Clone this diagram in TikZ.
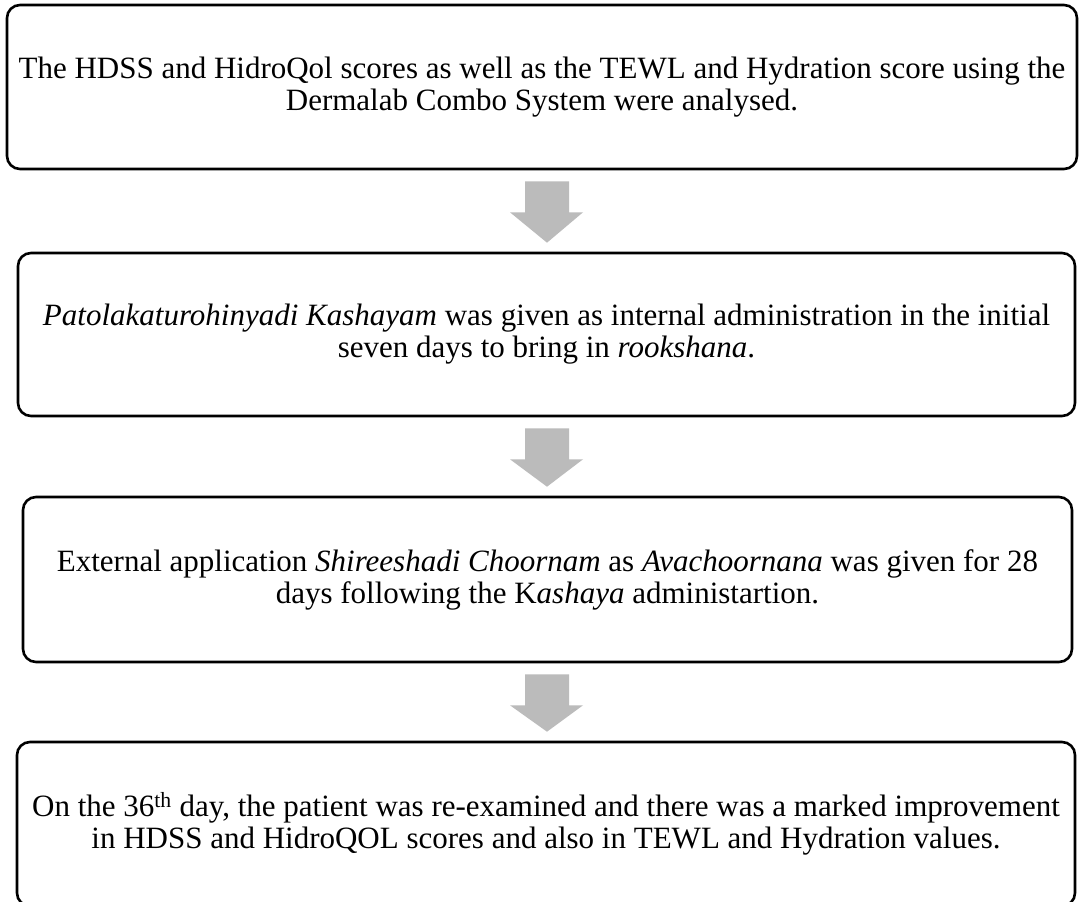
\documentclass[tikz,border=0pt]{standalone}
\usepackage{fontspec}
\setmainfont{Liberation Serif}
\usetikzlibrary{calc}
\definecolor{arrowfill}{RGB}{187,187,187}
\tikzset{
  stepbox/.style={draw=black, line width=2.6pt, rounded corners=13pt, rectangle,
    align=center, inner sep=0pt, font=\fontsize{31}{32}\selectfont},
}
\begin{document}
\begin{tikzpicture}[x=1pt,y=-1pt]
\clip (0,0) rectangle (1079,902);
\fill[white] (0,0) rectangle (1079,902);
\coordinate (ax) at (547,0);
\node[stepbox, minimum width=1070pt, minimum height=164pt] (b1) at (542,87)
  {The HDSS and HidroQol scores as well as the TEWL and Hydration score using the\\
   Dermalab Combo System were analysed.};
\node[stepbox, minimum width=1057pt, minimum height=163pt] (b2) at (546.5,334.5)
  {\textit{Patolakaturohinyadi Kashayam} was given as internal administration in the initial\\
   seven days to bring in \textit{rookshana}.};
\node[stepbox, minimum width=1049pt, minimum height=165pt] (b3) at (547.5,579.5)
  {External application \textit{Shireeshadi Choornam} as \textit{Avachoornana} was given for 28\\
   days following the K\textit{ashaya} administartion.};
\node[stepbox, minimum width=1058pt, minimum height=164pt] (b4) at (546,824)
  {On the 36\textsuperscript{th} day, the patient was re-examined and there was a marked improvement\\
   in HDSS and HidroQOL scores and also in TEWL and Hydration values.};
\foreach \a/\b in {b1/b2, b2/b3, b3/b4}{
  \fill[arrowfill] ($(\a.south -| ax)+(-22,11)$) -- ($(\a.south -| ax)+(22,11)$)
    -- ($(\a.south -| ax)+(22,42)$) -- ($(\a.south -| ax)+(36,42)$)
    -- ($(\b.north -| ax)+(0,-9)$)
    -- ($(\a.south -| ax)+(-37,42)$) -- ($(\a.south -| ax)+(-22,42)$) -- cycle;
}
\end{tikzpicture}
\end{document}
